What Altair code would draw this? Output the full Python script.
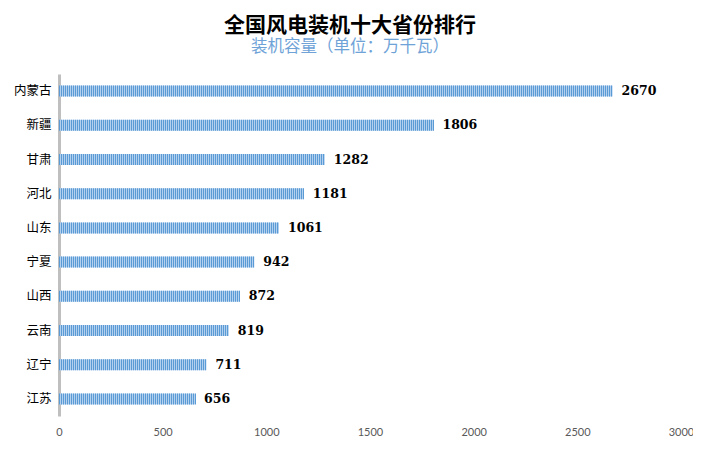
import altair as alt
import pandas as pd

provinces = ["内蒙古", "新疆", "甘肃", "河北", "山东", "宁夏", "山西", "云南", "辽宁", "江苏"]
capacity = [2670, 1806, 1282, 1181, 1061, 942, 872, 819, 711, 656]
x_ticks = [0, 500, 1000, 1500, 2000, 2500, 3000]

df = pd.DataFrame({"province": provinces, "value": capacity})

W, H = 622, 342
step_units = 2 * 3000 / W

y_axis = alt.Axis(domain=True, domainColor="#bfbfbf", domainWidth=3, ticks=False,
                  labelFont="Noto Sans CJK SC", labelFontSize=12.5, labelColor="#000000",
                  labelPadding=8)
y_scale = alt.Scale(paddingInner=0.68, paddingOuter=0.34)
y_enc = alt.Y("province:N", sort=provinces, title=None, scale=y_scale, axis=y_axis)

x_scale = alt.Scale(domain=[0, 3000], nice=False)
x_axis = alt.Axis(values=x_ticks, domain=False, ticks=False, grid=False, labelFont="Lato",
                  labelFontSize=11, labelColor="#595959", labelPadding=10, format="d",
                  labelFlush=False)

base = alt.Chart(df)

bars = base.mark_bar(size=11, color="#b3d0ef").encode(
    x=alt.X("value:Q", scale=x_scale, axis=x_axis, title=None),
    y=y_enc,
)

stripes = base.transform_calculate(
    s=f"sequence(0, datum.value, {step_units})"
).transform_flatten(["s"]).mark_tick(thickness=1, size=11, color="#5b9bd5", opacity=1,
                                     xOffset=0.5).encode(
    x=alt.X("s:Q", scale=x_scale, axis=x_axis, title=None),
    y=y_enc,
)

labels = base.mark_text(align="left", baseline="middle", dx=9, font="DejaVu Serif",
                        fontWeight="bold", fontSize=12.5, color="#000000").encode(
    x=alt.X("value:Q", scale=x_scale, axis=x_axis, title=None),
    y=y_enc,
    text="value:Q",
)

chart = alt.layer(bars, stripes, labels).properties(
    width=W, height=H,
    title=alt.TitleParams(
        text="全国风电装机十大省份排行",
        subtitle="装机容量（单位：万千瓦）",
        anchor="middle", dx=-20, offset=19,
        font="Noto Sans CJK SC", fontSize=21, fontWeight="bold", color="#000000",
        subtitleFont="Noto Sans CJK SC", subtitleFontSize=16.5, subtitleColor="#6fa3d8",
        subtitlePadding=3,
    ),
    autosize=alt.AutoSizeParams(type="none"),
    padding={"left": 51, "top": 66, "right": 12, "bottom": 25},
).configure_view(stroke=None)

chart.save("out.html", embed_options={"renderer": "svg", "actions": False})
